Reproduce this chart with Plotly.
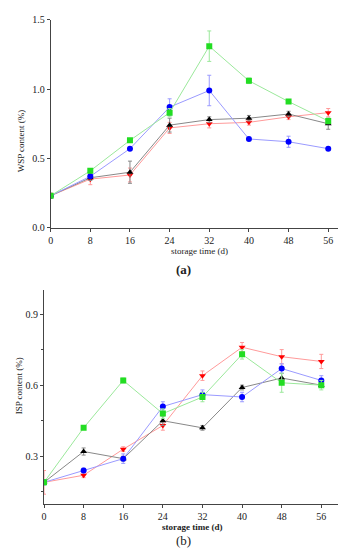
import plotly.graph_objects as go

days = [0, 8, 16, 24, 32, 40, 48, 56]

# Panel (a): WSP content (%)
wsp_green = [0.23, 0.41, 0.63, 0.83, 1.31, 1.06, 0.91, 0.77]
wsp_green_err = [0.01, 0.01, 0.01, 0.03, 0.11, 0.02, 0.01, 0.02]
wsp_blue = [0.23, 0.37, 0.57, 0.87, 0.99, 0.64, 0.62, 0.57]
wsp_blue_err = [0.01, 0.01, 0.01, 0.06, 0.11, 0.01, 0.04, 0.01]
wsp_black = [0.23, 0.36, 0.40, 0.74, 0.78, 0.79, 0.82, 0.75]
wsp_black_err = [0.01, 0.02, 0.08, 0.05, 0.02, 0.02, 0.02, 0.04]
wsp_red = [0.23, 0.35, 0.38, 0.72, 0.75, 0.76, 0.80, 0.83]
wsp_red_err = [0.02, 0.04, 0.05, 0.04, 0.03, 0.02, 0.02, 0.03]

# Panel (b): ISP content (%)
isp_green = [0.19, 0.42, 0.62, 0.48, 0.55, 0.73, 0.61, 0.60]
isp_green_err = [0.01, 0.005, 0.01, 0.02, 0.02, 0.02, 0.04, 0.02]
isp_blue = [0.19, 0.24, 0.29, 0.51, 0.56, 0.55, 0.67, 0.62]
isp_blue_err = [0.01, 0.01, 0.02, 0.02, 0.02, 0.02, 0.02, 0.02]
isp_black = [0.19, 0.32, 0.29, 0.45, 0.42, 0.59, 0.63, 0.60]
isp_black_err = [0.01, 0.015, 0.01, 0.02, 0.01, 0.01, 0.02, 0.01]
isp_red = [0.19, 0.22, 0.33, 0.43, 0.64, 0.76, 0.72, 0.70]
isp_red_err = [0.05, 0.01, 0.01, 0.02, 0.02, 0.02, 0.03, 0.03]

SERIES = [
    ("green", "#22dd22", "#9be89b", "square", "green"),
    ("blue", "#0000ff", "#9a9aff", "circle", "blue"),
    ("black", "#000000", "#888888", "triangle-up", "black"),
    ("red", "#ff0000", "#ff9a9a", "triangle-down", "red"),
]

data_a = {"green": (wsp_green, wsp_green_err), "blue": (wsp_blue, wsp_blue_err),
          "black": (wsp_black, wsp_black_err), "red": (wsp_red, wsp_red_err)}
data_b = {"green": (isp_green, isp_green_err), "blue": (isp_blue, isp_blue_err),
          "black": (isp_black, isp_black_err), "red": (isp_red, isp_red_err)}

fig = go.Figure()
order = ["red", "black", "blue", "green"]
for axes, data in (("", data_a), ("2", data_b)):
    for key in order:
        _, mc, lc, sym, name = next(s for s in SERIES if s[0] == key)
        y, e = data[key]
        fig.add_trace(go.Scatter(
            x=days, y=y, mode="lines+markers", name=name,
            xaxis="x" + axes, yaxis="y" + axes,
            line=dict(color=lc, width=1),
            marker=dict(color=mc, symbol=sym, size=6),
            error_y=dict(type="data", array=e, color=lc, thickness=1, width=2),
            showlegend=False,
        ))

font = "Liberation Serif, Times New Roman, serif"
axcommon = dict(showgrid=False, zeroline=False, showline=True, linecolor="#444",
                linewidth=1, ticks="outside", ticklen=3, tickcolor="#444",
                tickfont=dict(family=font, size=10, color="#222"))

W, H = 346, 550
fig.update_layout(
    width=W, height=H, margin=dict(l=0, r=0, t=0, b=0),
    paper_bgcolor="white", plot_bgcolor="white",
    font=dict(family=font, color="#222"),
    xaxis=dict(domain=[40 / W, 340 / W], range=[0, 60], tickvals=days,
               anchor="y", **axcommon),
    yaxis=dict(domain=[1 - 219 / H, 1 - 7 / H], range=[0, 1.5],
               tickvals=[0, 0.5, 1.0, 1.5], ticktext=["0.0", "0.5", "1.0", "1.5"],
               anchor="x", **axcommon),
    xaxis2=dict(domain=[33.3 / W, 333 / W], range=[0, 60], tickvals=days,
                anchor="y2", **axcommon),
    yaxis2=dict(domain=[1 - 500.7 / H, 1 - 283 / H], range=[0.1, 1.0],
                tickvals=[0.3, 0.6, 0.9], ticktext=["0.3", "0.6", "0.9"],
                minor=dict(tickvals=[0.15, 0.45, 0.75], ticks="outside",
                           ticklen=2, tickcolor="#444"),
                anchor="x2", **axcommon),
)

def txt(x, y, s, size, angle=0, bold=False):
    fig.add_annotation(x=x / W, y=1 - y / H, xref="paper", yref="paper",
                       text=("<b>%s</b>" % s) if bold else s, showarrow=False,
                       textangle=angle, font=dict(family=font, size=size, color="#222"),
                       xanchor="center", yanchor="middle")

txt(190, 243, "storage time (d)", 9)
txt(174, 262, "(a)", 13, bold=True)
txt(10, 130, "WSP content (%)", 9, angle=-90)
txt(183, 524, "storage time (d)", 9, bold=True)
txt(174, 538, "(b)", 13)
txt(8, 380, "ISP content (%)", 9, angle=-90)

fig.write_html("out.html")
